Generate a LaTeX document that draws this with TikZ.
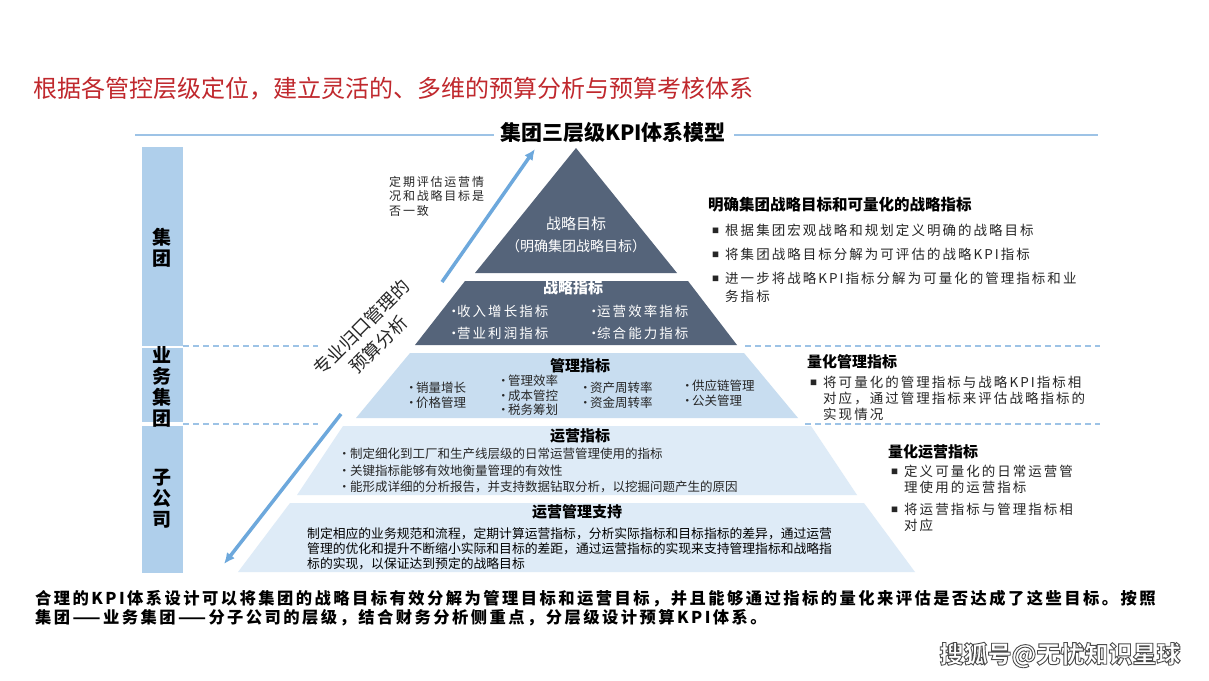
\documentclass[tikz,border=0pt]{standalone}
\usepackage{fontspec}
\setmainfont{Noto Sans CJK SC}
\newfontfamily\airy[LetterSpace=15]{Noto Sans CJK SC}
\usetikzlibrary{arrows.meta,calc,positioning}
\definecolor{slate}{HTML}{55647A}
\definecolor{midblue}{HTML}{C8DDF0}
\definecolor{paleblue}{HTML}{DEEBF7}
\definecolor{barblue}{HTML}{AFCFEB}
\definecolor{ruleblue}{HTML}{9DC3E6}
\definecolor{linkblue}{HTML}{6DA8DC}
\definecolor{titlered}{HTML}{C0282D}
\definecolor{bodygray}{HTML}{262626}
\newcommand\setfs[2]{\fontsize{#1}{#2}\selectfont}
\newcommand\dotitem[2][10pt]{\makebox[#1][l]{•}#2}
\newcommand\sqitem{\raisebox{1.5pt}{\setfs{7}{7}■}}
\newcommand\stack[1]{\begin{tabular}[t]{@{}l@{}}#1\end{tabular}}
\newcommand\outlined[1]{\special{pdf:literal direct 2 Tr 0.9 w 0.3 G}#1\special{pdf:literal direct 0 Tr}}

\begin{document}
\begin{tikzpicture}[x=1pt,y=-1pt,>={Latex[length=11pt,width=10pt]},
  every node/.style={inner sep=0pt},
  rowline/.style={ruleblue,line width=1.3pt,dash pattern=on 6pt off 4pt},
  flow/.style={linkblue,line width=3.5pt},
  tier/.style={font=\bfseries\setfs{19}{21},align=center},
  layerhead/.style={font=\bfseries\setfs{15}{18}},
  note/.style={text=bodygray,anchor=base west}]
\fill[white] (0,0) rectangle (1209,680);
\useasboundingbox (0,0) rectangle (1209,680);

\node[anchor=base west,text=titlered,font=\setfs{24}{28}] (title) at (33,97)
 {根据各管控层级定位，建立灵活的、多维的预算分析与预算考核体系};
\node[font=\bfseries\setfs{21}{24}] (model) at (613,133) {集团三层级KPI体系模型};
\coordinate (ruleL) at (135,135);
\coordinate (ruleR) at (1098,135);
\draw[ruleblue,line width=1.5pt] (ruleL) -- ($(ruleL -| model.west)+(-6,0)$);
\draw[ruleblue,line width=1.5pt] ($(ruleR -| model.east)+(8,0)$) -- (ruleR);

\fill[barblue] (142,147) rectangle (183,346);
\fill[barblue] (142,348) rectangle (183,422);
\fill[barblue] (142,426) rectangle (183,573);
\node[tier] (group) at (162,248) {集\\团};
\node[tier] (unit) at (162,387) {业\\务\\集\\团};
\node[tier] (sub) at (162,499) {子\\公\\司};

\draw[rowline] (183,346) -- (318,346);
\draw[rowline] (745,346) -- (1100,346);
\draw[rowline] (183,424) -- (318,424);
\draw[rowline] (805,424) -- (1100,424);

\fill[slate] (576,148) -- (677,273) -- (475,273) -- cycle;
\fill[slate] (465,281) -- (688,281) -- (737,345) -- (415,345) -- cycle;
\fill[midblue] (410,353) -- (744,353) -- (798,418) -- (356,418) -- cycle;
\fill[paleblue] (343,426) -- (811,426) -- (857,495) -- (297,495) -- cycle;
\fill[paleblue] (290,503) -- (864,503) -- (915,572) -- (238,572) -- cycle;

\node[text=white,font=\setfs{15}{18}] (goal) at (576,224) {战略目标};
\node[text=white,font=\setfs{14}{17}] (goalsub) at (576,246) {（明确集团战略目标）};

\node[layerhead,text=white] (strat) at (573,288) {战略指标};
\node[note,text=white,font=\airy\setfs{13.5}{22}] (stratL) at (447,316)
 {\begin{tabular}[t]{@{}p{140pt}@{}l@{}}
  \dotitem{收入增长指标} & \dotitem{运营效率指标}\\
  \dotitem{营业利润指标} & \dotitem{综合能力指标}
 \end{tabular}};

\node[layerhead] (mgmt) at (580,366) {管理指标};
\node[note,font=\setfs{12.5}{13.3}] (mgmtA) at (405,392.7)
 {\stack{\dotitem[11pt]{销量增长}\\ \dotitem[11pt]{价格管理}}};
\node[note,font=\setfs{12.5}{13.3}] (mgmtB) at (497,385.7)
 {\stack{\dotitem[11pt]{管理效率}\\ \dotitem[11pt]{成本管控}\\ \dotitem[11pt]{税务筹划}}};
\node[note,font=\setfs{12.5}{13.3}] (mgmtC) at (579,392.7)
 {\stack{\dotitem[11pt]{资产周转率}\\ \dotitem[11pt]{资金周转率}}};
\node[note,font=\setfs{12.5}{13.3}] (mgmtD) at (681,390.7)
 {\stack{\dotitem[11pt]{供应链管理}\\ \dotitem[11pt]{公关管理}}};

\node[layerhead] (ops) at (580,436) {运营指标};
\node[note,font=\setfs{12.5}{16.5}] (opsL) at (338,458.7)
 {\stack{\dotitem[12pt]{制定细化到工厂和生产线层级的日常运营管理使用的指标}\\
  \dotitem[12pt]{关键指标能够有效地衡量管理的有效性}\\
  \dotitem[12pt]{能形成详细的分析报告，并支持数据钻取分析，以挖掘问题产生的原因}}};

\node[layerhead] (support) at (577,512) {运营管理支持};
\node[note,text=black,font=\setfs{12.8}{15}] (supportL) at (307,538)
 {\stack{制定相应的业务规范和流程，定期计算运营指标，分析实际指标和目标指标的差异，通过运营\\
  管理的优化和提升不断缩小实际和目标的差距，通过运营指标的实现来支持管理指标和战略指\\
  标的实现，以保证达到预定的战略目标}};

\node[note,font=\airy\setfs{12}{14}] (check) at (389,186.5)
 {\stack{定期评估运营情\\况和战略目标是\\否一致}};
\node[rotate=45,align=center,text=bodygray,font=\setfs{18}{24}] (budget) at (370,336)
 {专业归口管理的\\预算分析};

\coordinate (upA) at (442,282);
\coordinate (upB) at (535,149);
\coordinate (downA) at (341,414);
\coordinate (downB) at (224,564);
\draw[flow,->] (upA) -- (upB);
\draw[flow,->] (downA) -- (downB);

\node[layerhead,anchor=base west,font=\bfseries\setfs{15.5}{18}] (goalH) at (708,210.7) {明确集团战略目标和可量化的战略指标};
\node[note,font=\airy\setfs{13.5}{18}] (goalR) at (712,235)
 {\begin{tabular}[t]{@{}l@{\hspace{6pt}}l@{}}
  \sqitem & 根据集团宏观战略和规划定义明确的战略目标\\[6pt]
  \sqitem & 将集团战略目标分解为可评估的战略KPI指标\\[6pt]
  \sqitem & 进一步将战略KPI指标分解为可量化的管理指标和业\\
          & 务指标
 \end{tabular}};

\node[layerhead,anchor=base west] (mgmtH) at (807,367.7) {量化管理指标};
\node[note,font=\airy\setfs{13.5}{16}] (mgmtR) at (810,387)
 {\begin{tabular}[t]{@{}l@{\hspace{6pt}}l@{}}
  \sqitem & 将可量化的管理指标与战略KPI指标相\\
          & 对应，通过管理指标来评估战略指标的\\
          & 实现情况
 \end{tabular}};

\node[layerhead,anchor=base west] (opsH) at (888,457.7) {量化运营指标};
\node[note,font=\airy\setfs{13.5}{16}] (opsR) at (891,476)
 {\begin{tabular}[t]{@{}l@{\hspace{6pt}}l@{}}
  \sqitem & 定义可量化的日常运营管\\
          & 理使用的运营指标\\[6pt]
  \sqitem & 将运营指标与管理指标相\\
          & 对应
 \end{tabular}};

\node[note,text=black,font=\airy\bfseries\setfs{16.3}{17}] (summary) at (35,604)
 {\stack{合理的KPI体系设计可以将集团的战略目标有效分解为管理目标和运营目标，并且能够通过指标的量化来评估是否达成了这些目标。按照\\
  集团——业务集团——分子公司的层级，结合财务分析侧重点，分层级设计预算KPI体系。}};

\node[text=white,font=\bfseries\setfs{24}{28}] (mark) at (1060,655) {\outlined{搜狐号@无忧知识星球}};
\end{tikzpicture}
\end{document}
